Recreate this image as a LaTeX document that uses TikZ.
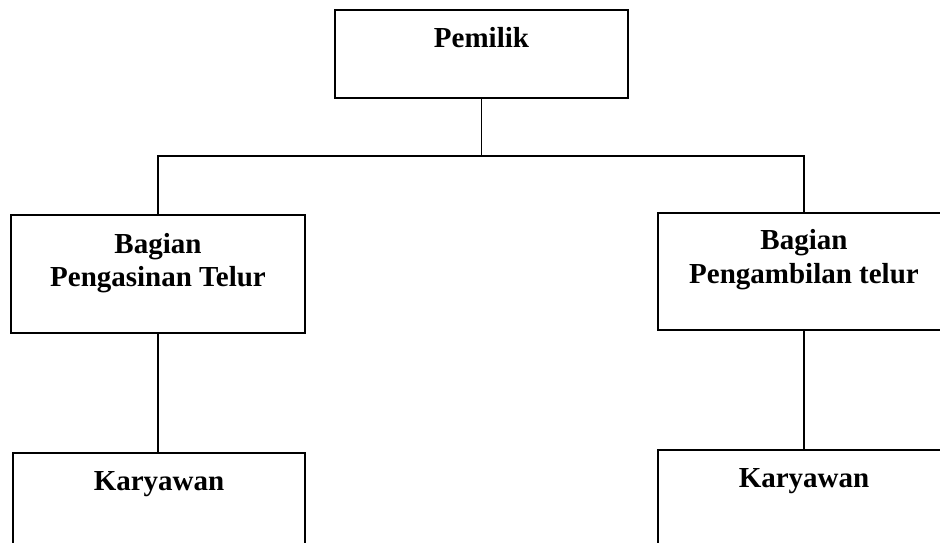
\documentclass[tikz,border=0pt]{standalone}
\usepackage{fontspec}
\setmainfont{Liberation Serif}
\begin{document}
\begin{tikzpicture}[x=1pt,y=-1pt,
  orgbox/.style={draw=black, line width=2pt, rectangle, inner sep=0pt, fill=none},
  lbl/.style={font=\fontsize{29}{33}\selectfont\bfseries, inner sep=0pt, anchor=base, align=center},
  conn/.style={draw=black, line width=1.6pt}]
\useasboundingbox (0,0) rectangle (940,543);
\clip (0,0) rectangle (940,543);
% boxes
\node[orgbox, minimum width=293pt, minimum height=88pt] (p) at (481.5,54) {};
\node[orgbox, minimum width=294pt, minimum height=118pt] (l) at (158,274) {};
\node[orgbox, minimum width=292pt, minimum height=117pt] (r) at (804,271.5) {};
\node[orgbox, minimum width=292pt, minimum height=140pt] (lk) at (159,523) {};
\node[orgbox, minimum width=292pt, minimum height=140pt] (rk) at (804,520) {};
% labels
\node[lbl] (pt) at ([yshift=-39pt]p.north) {Pemilik};
\node[lbl] (lt1) at ([yshift=-39pt]l.north) {Bagian};
\node[lbl] (lt2) at ([yshift=-72pt]l.north) {Pengasinan Telur};
\node[lbl] (rt1) at ([yshift=-37pt]r.north) {Bagian};
\node[lbl] (rt2) at ([yshift=-71pt]r.north) {Pengambilan telur};
\node[lbl] (lkt) at ([yshift=-38pt]lk.north) {Karyawan};
\node[lbl] (rkt) at ([yshift=-38pt]rk.north) {Karyawan};
% connectors
\coordinate (bus) at (481.5,156);
\draw[conn] (p.south) -- (bus);
\draw[conn] (l.north) |- (bus) -| (r.north);
\draw[conn] (l.south) -- (l.south |- lk.north);
\draw[conn] (r.south) -- (r.south |- rk.north);
\end{tikzpicture}
\end{document}
